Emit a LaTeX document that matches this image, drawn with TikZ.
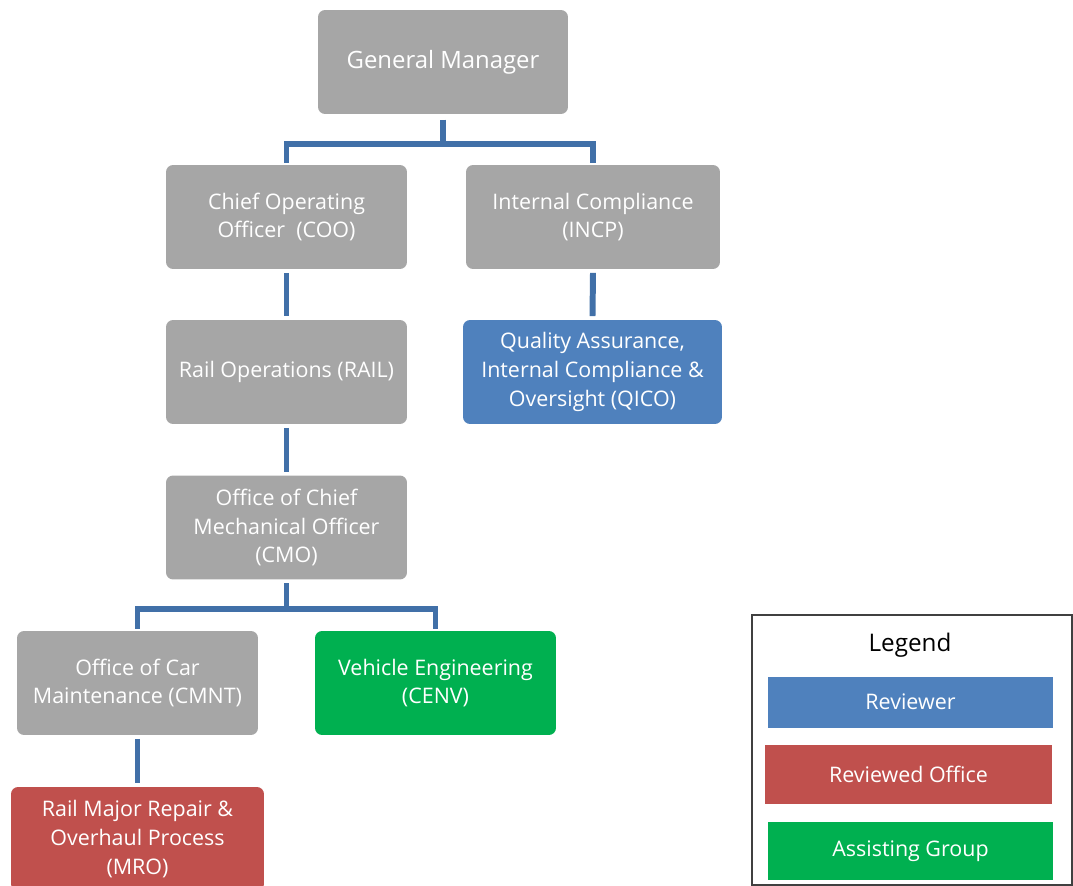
\documentclass[tikz,border=0pt]{standalone}
\usepackage{fontspec}
\setmainfont{Open Sans}
\usetikzlibrary{positioning}

\definecolor{officegray}{HTML}{A6A6A6}
\definecolor{linkblue}{HTML}{4170A8}
\definecolor{reviewblue}{HTML}{4F81BD}
\definecolor{reviewedred}{HTML}{C0504D}
\definecolor{assistgreen}{HTML}{00B050}

\tikzset{
  office/.style={rounded corners=4pt, fill=officegray, text=white, align=center,
    inner sep=0pt, minimum width=4.82cm, minimum height=2.08cm,
    font=\fontsize{12.2}{16.4}\selectfont},
  reviewer/.style={office, fill=reviewblue},
  reviewed/.style={office, fill=reviewedred},
  assisting/.style={office, fill=assistgreen},
  keybox/.style={fill=#1, text=white, inner sep=0pt, minimum width=5.7cm,
    font=\fontsize{12.2}{16.4}\selectfont},
  link/.style={draw=linkblue, line width=3.4pt}
}

\begin{document}
\begin{tikzpicture}[x=0.02cm, y=-0.02cm]
\clip (0,0) rectangle (1073,886);
\useasboundingbox (0,0) rectangle (1073,886);

\node[office, minimum width=5cm, font=\fontsize{13.6}{16.4}\selectfont] (gm) at (443,62) {General Manager};
\node[office] (coo) at (286.5,217) {Chief Operating\\Officer \ (COO)};
\node[office, minimum width=5.08cm] (incp) at (593,217) {Internal Compliance\\(INCP)};
\node[office] (rail) at (286.5,372) {Rail Operations (RAIL)};
\node[reviewer, minimum width=5.18cm] (qico) at (592.5,372) {Quality Assurance,\\Internal Compliance \&\\Oversight (QICO)};
\node[office] (cmo) at (286.5,527.5) {Office of Chief\\Mechanical Officer\\(CMO)};
\node[office] (cmnt) at (137.5,683) {Office of Car\\Maintenance (CMNT)};
\node[assisting] (cenv) at (435.5,683) {Vehicle Engineering\\(CENV)};
\node[reviewed, minimum width=5.06cm] (mro) at (137.5,839) {Rail Major Repair \&\\Overhaul Process\\(MRO)};

\draw[link] ([yshift=-3pt]gm.south) -- ++(0,24) coordinate (gmbar) -| ([yshift=1pt]coo.north);
\draw[link] (gmbar) -| ([yshift=1pt]incp.north);
\draw[link] ([yshift=-2pt]coo.south) -- ([yshift=2pt]rail.north);
\draw[link] ([yshift=-2pt]incp.south) -- ([yshift=2pt]qico.north);
\draw[link] ([yshift=-2pt]rail.south) -- ([yshift=2pt]cmo.north);
\draw[link] ([yshift=-2pt]cmo.south) -- ++(0,26) coordinate (cmobar) -| ([yshift=1pt]cmnt.north);
\draw[link] (cmobar) -| ([yshift=1pt]cenv.north);
\draw[link] ([yshift=-2pt]cmnt.south) -- ([yshift=2pt]mro.north);

\node[draw=black!75, line width=1pt, minimum width=6.4cm, minimum height=5.4cm] (legend) at (912,750) {};
\node[font=\fontsize{13.8}{16}\selectfont] (legendtitle) at (910,645) {Legend};
\node[keybox=reviewblue, minimum height=1.02cm] (keyrev) at (910.5,702) {Reviewer};
\node[keybox=reviewedred, minimum width=5.74cm, minimum height=1.18cm] (keyoff) at (908.5,774) {Reviewed Office};
\node[keybox=assistgreen, minimum height=1.16cm] (keyasst) at (910.5,851) {Assisting Group};
\end{tikzpicture}
\end{document}
